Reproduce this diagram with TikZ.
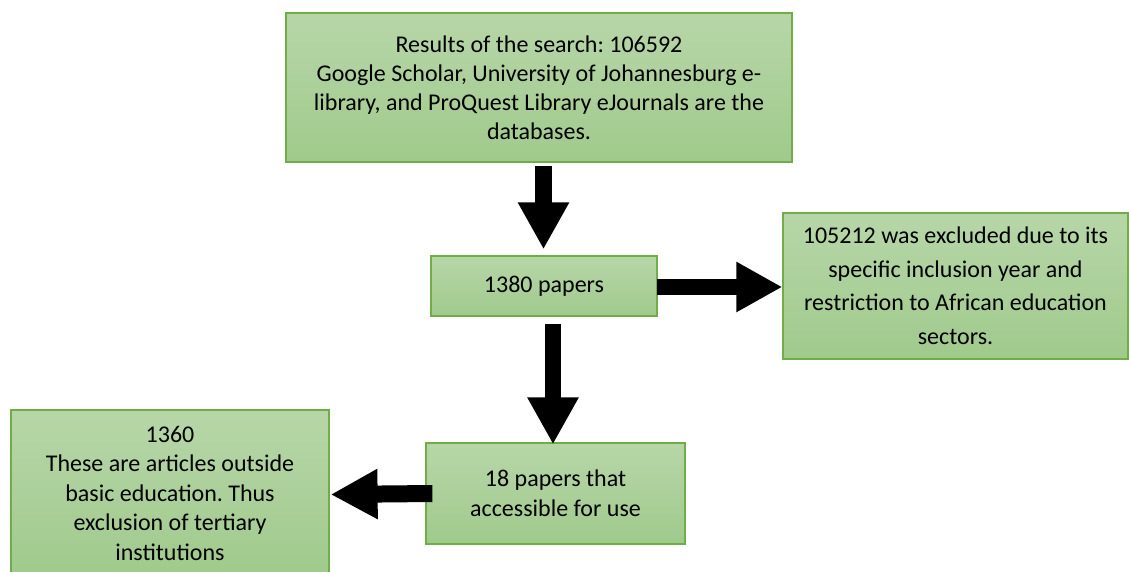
\documentclass[tikz,border=0pt]{standalone}
\usepackage{fontspec}
\setmainfont{Carlito}
\usetikzlibrary{arrows.meta,calc}
\definecolor{boxtop}{RGB}{183,214,168}
\definecolor{boxbot}{RGB}{160,202,140}
\definecolor{boxline}{RGB}{112,173,71}
\tikzset{
  gbox/.style={draw=boxline, line width=1.2pt, top color=boxtop, bottom color=boxbot,
    align=center, inner sep=0pt, text=black},
  fat/.style={draw=black, line width=#1},
}
\begin{document}
\frenchspacing
\begin{tikzpicture}[x=1pt,y=-1pt]
\useasboundingbox (0,0) rectangle (1129,572);
\node[gbox, minimum width=506pt, minimum height=149pt,
  font=\fontsize{24}{29}\selectfont\frenchspacing] (top) at (539,87.5)
  {Results of the search: 106592\\Google Scholar, University of Johannesburg e-\\library, and ProQuest Library eJournals are the\\databases.};
\node[gbox, minimum width=226pt, minimum height=60pt,
  font=\fontsize{24}{29}\selectfont] (b1380) at (544,286) {1380 papers};
\node[gbox, minimum width=345pt, minimum height=146pt,
  font=\fontsize{24}{33.5}\selectfont\frenchspacing] (excl) at (955.5,286)
  {105212 was excluded due to its\\specific inclusion year and\\restriction to African education\\sectors.};
\node[gbox, minimum width=259pt, minimum height=101pt,
  font=\fontsize{24}{30}\selectfont] (b18) at (555.5,493.5)
  {18 papers that\\accessible for use};
\node[gbox, minimum width=318pt, minimum height=166pt,
  font=\fontsize{24}{29.5}\selectfont\frenchspacing] (b1360) at (170,493)
  {1360\\These are articles outside\\basic education. Thus\\exclusion of tertiary\\institutions};
\draw[fat=17pt, -{Triangle[width=48pt,length=47pt]}]
  ($(top.south)+(4.5,3)$) -- ($(b1380.north)+(-0.5,-6)$);
\draw[fat=16pt, -{Triangle[width=48pt,length=47pt]}]
  ($(b1380.south)+(9,7)$) -- ($(b18.north)+(-2.5,2)$);
\draw[fat=16pt, -{Triangle[width=47pt,length=46pt]}]
  ($(b1380.east)+(-1,1)$) -- ($(excl.west)+(0,1)$);
\draw[fat=17pt, -{Triangle[width=47pt,length=47pt]}]
  ($(b18.west)+(7,0)$) -- ($(b1360.east)+(1,1.5)$);
\end{tikzpicture}
\end{document}
